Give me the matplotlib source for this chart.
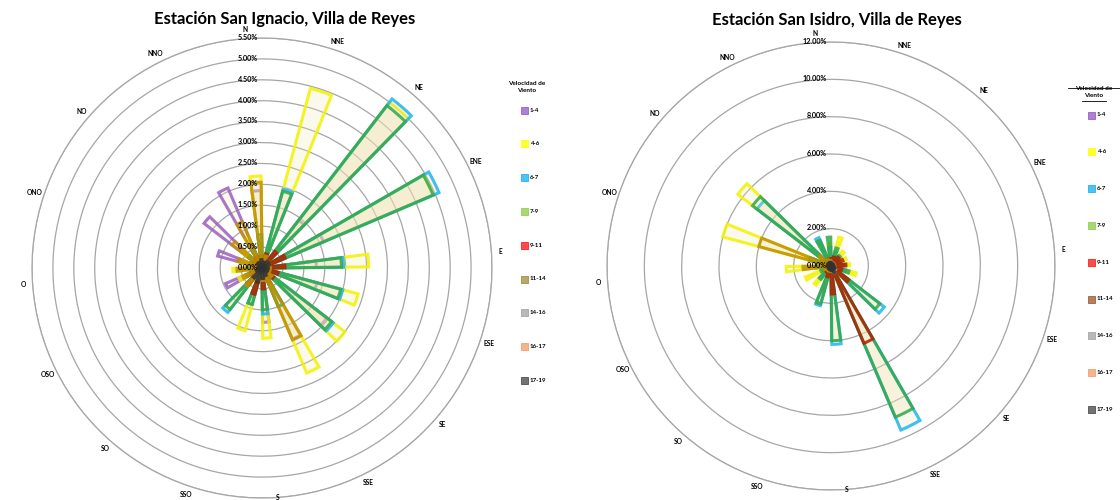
## Rosas de viento: Estación San Ignacio y Estación San Isidro, Villa de Reyes

import numpy as np
import matplotlib.pyplot as plt
from matplotlib.colors import to_rgba

plt.rcParams['font.family'] = ['Lato', 'DejaVu Sans']

directions = ["N", "NNE", "NE", "ENE", "E", "ESE", "SE", "SSE",
              "S", "SSO", "SO", "OSO", "O", "ONO", "NO", "NNO"]
speed_classes = ["1-4", "4-6", "6-7", "7-9", "9-11", "11-14", "14-16", "16-17", "17-19"]

# San Ignacio, frecuencia (%) por dirección
ign_1_4 = [1.85, 0.70, 1.44, 1.60, 1.30, 1.36, 1.96, 1.85, 1.30, 0.60, 0.50, 0.95, 0.50, 1.10, 1.75, 2.08]
ign_4_6 = [2.20, 4.45, 5.00, 4.45, 2.55, 2.38, 2.50, 2.73, 1.68, 1.55, 0.90, 0.60, 0.70, 0.50, 0.60, 0.80]
ign_6_7 = [0.60, 1.95, 5.10, 4.60, 1.95, 2.00, 2.15, 1.00, 1.10, 0.90, 1.34, 0.40, 0.30, 0.30, 0.40, 0.50]
ign_7_9 = [0.80, 1.90, 4.90, 4.45, 1.90, 1.95, 2.10, 1.00, 1.00, 0.90, 1.25, 0.40, 0.30, 0.30, 0.40, 0.50]
ign_9_11 = [0.30, 0.35, 0.50, 0.60, 0.55, 0.40, 0.35, 0.40, 0.50, 0.65, 0.50, 0.30, 0.20, 0.20, 0.25, 0.30]
ign_11_14 = [2.05, 0.30, 0.20, 0.20, 0.20, 0.20, 0.30, 1.87, 0.30, 0.30, 0.55, 0.50, 0.60, 0.60, 0.90, 1.20]
ign_14_16 = [0.15, 0.10, 0.15, 0.15, 0.10, 0.10, 0.10, 0.15, 0.15, 0.20, 0.20, 0.10, 0.10, 0.10, 0.10, 0.10]
ign_16_17 = [0.10, 0.05, 0.10, 0.10, 0.05, 0.05, 0.05, 0.10, 0.10, 0.10, 0.10, 0.05, 0.05, 0.05, 0.05, 0.05]
ign_17_19 = [0.20, 0.15, 0.20, 0.20, 0.15, 0.15, 0.15, 0.20, 0.25, 0.35, 0.30, 0.15, 0.10, 0.10, 0.15, 0.15]

# San Isidro, frecuencia (%) por dirección
isi_1_4 = [0.50, 0.40, 0.30, 0.30, 0.40, 0.50, 0.60, 0.60, 0.50, 0.50, 0.40, 0.40, 0.50, 0.60, 0.60, 0.50]
isi_4_6 = [1.20, 1.60, 1.00, 0.90, 1.00, 1.40, 1.10, 1.30, 1.40, 1.60, 1.30, 1.50, 2.40, 6.00, 6.30, 1.30]
isi_6_7 = [1.00, 0.80, 0.60, 0.50, 0.60, 0.80, 3.60, 9.55, 4.20, 2.20, 0.80, 0.50, 0.60, 1.00, 5.00, 1.65]
isi_7_9 = [1.55, 1.00, 0.70, 0.50, 0.70, 1.00, 3.30, 8.80, 4.00, 2.10, 0.90, 0.60, 0.80, 1.20, 5.30, 1.50]
isi_9_11 = [0.40, 0.50, 0.60, 0.70, 0.80, 0.60, 1.20, 4.50, 1.50, 0.60, 0.40, 0.30, 0.30, 0.30, 0.40, 0.40]
isi_11_14 = [0.30, 0.20, 0.20, 0.20, 0.20, 0.20, 0.30, 0.40, 0.30, 0.30, 0.30, 0.40, 1.50, 4.00, 0.80, 0.40]
isi_14_16 = [0.20, 0.15, 0.15, 0.15, 0.15, 0.20, 0.30, 0.40, 0.20, 0.15, 0.15, 0.15, 0.20, 0.20, 0.20, 0.15]
isi_16_17 = [0.10, 0.10, 0.10, 0.10, 0.10, 0.10, 0.10, 0.20, 0.10, 0.10, 0.10, 0.10, 0.10, 0.10, 0.10, 0.10]
isi_17_19 = [0.20, 0.15, 0.15, 0.15, 0.15, 0.20, 0.25, 0.40, 0.25, 0.20, 0.20, 0.15, 0.20, 0.20, 0.20, 0.20]

ign_ticks = [0, 0.5, 1.0, 1.5, 2.0, 2.5, 3.0, 3.5, 4.0, 4.5, 5.0, 5.5]
isi_ticks = [0, 2, 4, 6, 8, 10, 12]

bar_colors = ['#9A5FC0', '#F2F200', '#1EB4F0', '#30A848', '#B01E00',
              '#C09000', '#A6A6A6', '#F4A070', '#303030']
ign_legend_colors = ['#9A60C8', '#FFFF00', '#1EB4F0', '#92D050', '#FF2020',
                     '#A89048', '#A6A6A6', '#F4A070', '#505050']
isi_legend_colors = ['#9A60C8', '#FFFF00', '#1EB4F0', '#92D050', '#FF2020',
                     '#A0603A', '#A6A6A6', '#F4A070', '#505050']


def drawRose(ax, series, ticks):
    theta = np.radians(np.arange(16) * 22.5)
    ax.set_theta_direction(-1)
    ax.set_theta_offset(np.radians(94))
    face = to_rgba('#EFE2B0', 0.24)
    for vals, col in zip(series, bar_colors):
        ax.bar(theta, vals, width=0.12, bottom=0, facecolor=face,
               edgecolor=to_rgba(col, 0.85), linewidth=2.2, zorder=3)
    ax.set_ylim(0, ticks[-1])
    ax.set_yticks(ticks)
    ax.set_yticklabels([])
    ax.set_xticks([])
    ax.xaxis.grid(False)
    ax.yaxis.grid(True, color='#A6A6A6', linewidth=0.9)
    ax.spines['polar'].set_color('#A6A6A6')
    ax.spines['polar'].set_linewidth(0.9)
    ax.set_axisbelow(True)
    for t in ticks:
        ax.annotate(f"{t:.2f}%", xy=(np.radians(4), t), xytext=(-3, -2),
                    textcoords='offset points', ha='right', va='bottom',
                    fontsize=5.2, fontweight='bold', zorder=5)
    for th, name in zip(theta, directions):
        # la etiqueta S queda pegada al borde inferior
        k = 1.0 if name == "S" else 1.04
        ax.text(th, ticks[-1] * k, name, ha='center', va='center',
                fontsize=4.8, fontweight='bold')


def drawLegend(fig, x, y0, step, colors, underline):
    fig.text(x, y0 + 0.046, "Velocidad de\nViento", ha='center', va='center',
             fontsize=4.6, fontweight='bold', linespacing=1.35)
    if underline:
        for yl, half in [(y0 + 0.053, 0.023), (y0 + 0.029, 0.011)]:
            fig.add_artist(plt.Line2D([x - half, x + half], [yl, yl],
                                      color='black', linewidth=0.6))
    for i, (lab, col) in enumerate(zip(speed_classes, colors)):
        yy = y0 - i * step
        fig.add_artist(plt.Rectangle((x - 0.005, yy - 0.007), 0.0062, 0.014,
                                     facecolor=to_rgba(col, 0.8), edgecolor=col,
                                     linewidth=0.6))
        fig.text(x + 0.0025, yy, lab, ha='left', va='center',
                 fontsize=4.4, fontweight='bold')


fig = plt.figure(figsize=(11.2, 5), dpi=100)

ax1 = fig.add_axes([32 / 1120, 2 / 500, 460 / 1120, 460 / 500], projection='polar')
drawRose(ax1, [ign_1_4, ign_4_6, ign_6_7, ign_7_9, ign_9_11, ign_11_14,
               ign_14_16, ign_16_17, ign_17_19], ign_ticks)
fig.text(285 / 1120, 1 - 19 / 500, "Estación San Ignacio, Villa de Reyes",
         ha='center', va='center', fontsize=12, fontweight='bold')

ax2 = fig.add_axes([607 / 1120, 10 / 500, 448 / 1120, 448 / 500], projection='polar')
drawRose(ax2, [isi_1_4, isi_4_6, isi_6_7, isi_7_9, isi_9_11, isi_11_14,
               isi_14_16, isi_16_17, isi_17_19], isi_ticks)
fig.text(837 / 1120, 1 - 20 / 500, "Estación San Isidro, Villa de Reyes",
         ha='center', va='center', fontsize=12, fontweight='bold')

drawLegend(fig, 527 / 1120, 1 - 110 / 500, 33.8 / 500, ign_legend_colors, False)
drawLegend(fig, 1094 / 1120, 1 - 115 / 500, 36.8 / 500, isi_legend_colors, True)

fig.savefig("out.png", dpi=100)
